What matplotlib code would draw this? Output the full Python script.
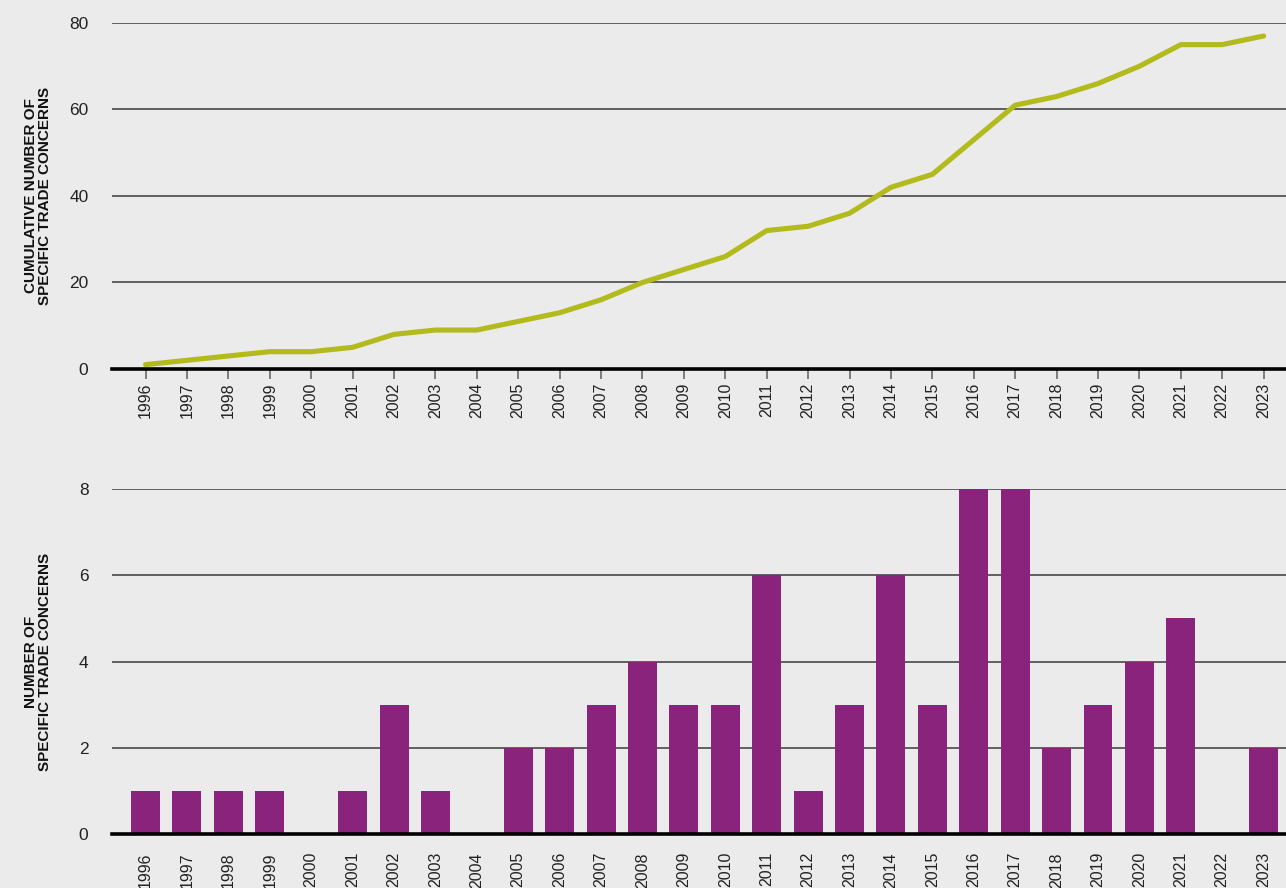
import matplotlib
matplotlib.use("Agg")
import matplotlib.pyplot as plt
import numpy as np

# Specific trade concerns raised per year, 1996-2023
years = list(range(1996, 2024))
new_concerns = [1, 1, 1, 1, 0, 1, 3, 1, 0, 2, 2, 3, 4, 3, 3, 6, 1, 3, 6, 3, 8, 8, 2, 3, 4, 5, 0, 2]
cumulative_concerns = [1, 2, 3, 4, 4, 5, 8, 9, 9, 11, 13, 16, 20, 23, 26, 32, 33, 36, 42, 45,
                       53, 61, 63, 66, 70, 75, 75, 77]

top_ticks = [0, 20, 40, 60, 80]
bottom_ticks = [0, 2, 4, 6, 8]

BG = "#ebebeb"
LINE_COLOR = "#b3bb1c"
BAR_COLOR = "#8a237c"
GRID_COLOR = "#3a3a3a"

plt.rcParams["font.family"] = ["Liberation Sans Narrow", "Liberation Sans", "DejaVu Sans"]

fig = plt.figure(figsize=(12.86, 8.88), dpi=100, facecolor=BG)
ax_top = fig.add_axes([0.0871, 0.5845, 0.9129, 0.3896])
ax_bot = fig.add_axes([0.0871, 0.0608, 0.9129, 0.3885])

xlim = (1995.19, 2023.54)


def style_axis(ax, yticks, ylabel, show_xticks):
    ax.set_facecolor(BG)
    for side in ("top", "right", "left"):
        ax.spines[side].set_visible(False)
    ax.spines["bottom"].set_color("black")
    ax.spines["bottom"].set_linewidth(2.6)
    ax.spines["bottom"].set_zorder(4)
    ax.set_xlim(*xlim)
    ax.set_ylim(yticks[0], yticks[-1])
    ax.set_yticks(yticks)
    ax.set_xticks(years)
    ax.set_xticklabels([str(y) for y in years], rotation=90, fontsize=11.5)
    ax.tick_params(axis="y", length=0, pad=17, labelsize=12.5, colors="#222222")
    if show_xticks:
        ax.tick_params(axis="x", length=7, width=1.2, color="#6a6a6a", pad=3, labelcolor="#222222")
    else:
        ax.tick_params(axis="x", length=0, pad=13, labelcolor="#222222")
    ax.yaxis.grid(True, color=GRID_COLOR, lw=1.1)
    ax.set_axisbelow(True)
    ax.set_ylabel(ylabel, fontsize=11, fontweight="bold", linespacing=1.0, color="#111111")
    ax.yaxis.set_label_coords(-0.051, 0.5)


style_axis(ax_top, top_ticks, "CUMULATIVE NUMBER OF\nSPECIFIC TRADE CONCERNS", True)
ax_top.plot(years, cumulative_concerns, color=LINE_COLOR, lw=3.7, solid_capstyle="round", zorder=3)

style_axis(ax_bot, bottom_ticks, "NUMBER OF\nSPECIFIC TRADE CONCERNS", False)
ax_bot.bar(years, new_concerns, width=0.7, color=BAR_COLOR, zorder=3)

fig.savefig("out.png", dpi=100, facecolor=BG)
